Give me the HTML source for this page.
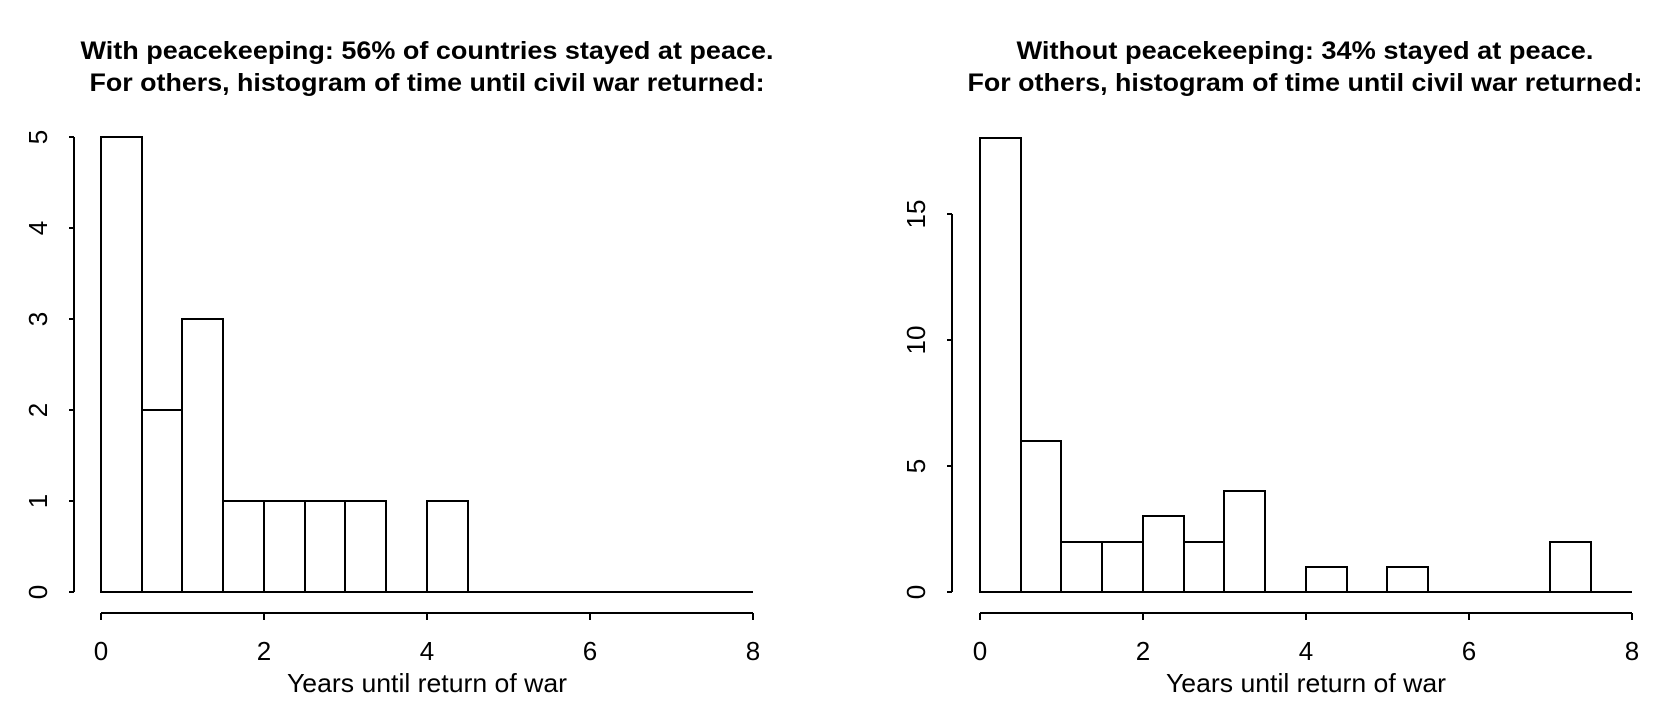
<!DOCTYPE html>
<html><head><meta charset="utf-8"><style>body{margin:0;background:#fff}svg{display:block}</style></head><body>
<svg width="1671" height="709" xmlns="http://www.w3.org/2000/svg" font-family="Liberation Sans, Arial, sans-serif" fill="none" stroke="#000" stroke-width="2">
<g fill="#000" stroke="none" text-anchor="middle">
<text x="427" y="59" font-size="25" font-weight="bold" textLength="693" lengthAdjust="spacingAndGlyphs">With peacekeeping:  56% of countries stayed at peace.</text>
<text x="427" y="91" font-size="25" font-weight="bold" textLength="675" lengthAdjust="spacingAndGlyphs">For others, histogram of time until civil war returned:</text>
<text x="1305" y="59" font-size="25" font-weight="bold" textLength="577" lengthAdjust="spacingAndGlyphs">Without peacekeeping:  34% stayed at peace.</text>
<text x="1305" y="91" font-size="25" font-weight="bold" textLength="675" lengthAdjust="spacingAndGlyphs">For others, histogram of time until civil war returned:</text>
<g font-size="26">
<text x="101" y="660">0</text><text x="264" y="660">2</text><text x="427" y="660">4</text><text x="590" y="660">6</text><text x="753" y="660">8</text>
<text x="980" y="660">0</text><text x="1143" y="660">2</text><text x="1306" y="660">4</text><text x="1469" y="660">6</text><text x="1632" y="660">8</text>
<text x="427" y="692" textLength="280" lengthAdjust="spacingAndGlyphs">Years until return of war</text>
<text x="1306" y="692" textLength="280" lengthAdjust="spacingAndGlyphs">Years until return of war</text>
<text transform="translate(47,592) rotate(-90)">0</text>
<text transform="translate(47,501) rotate(-90)">1</text>
<text transform="translate(47,410) rotate(-90)">2</text>
<text transform="translate(47,319) rotate(-90)">3</text>
<text transform="translate(47,228) rotate(-90)">4</text>
<text transform="translate(47,137) rotate(-90)">5</text>
<text transform="translate(925,592) rotate(-90)">0</text>
<text transform="translate(925,466) rotate(-90)">5</text>
<text transform="translate(925,340) rotate(-90)">10</text>
<text transform="translate(925,214) rotate(-90)">15</text>
</g></g>
<path d="M74 137V592M69 137H74M69 228H74M69 319H74M69 410H74M69 501H74M69 592H74"/>
<path d="M101 613H753M101 613V620M264 613V620M427 613V620M590 613V620M753 613V620"/>
<path d="M101 592H753"/>
<rect x="101" y="137" width="41" height="455"/>
<rect x="142" y="410" width="40" height="182"/>
<rect x="182" y="319" width="41" height="273"/>
<rect x="223" y="501" width="41" height="91"/>
<rect x="264" y="501" width="41" height="91"/>
<rect x="305" y="501" width="40" height="91"/>
<rect x="345" y="501" width="41" height="91"/>
<rect x="427" y="501" width="41" height="91"/>
<path d="M952 214V592M947 214H952M947 340H952M947 466H952M947 592H952"/>
<path d="M980 613H1632M980 613V620M1143 613V620M1306 613V620M1469 613V620M1632 613V620"/>
<path d="M980 592H1632"/>
<rect x="980" y="138" width="41" height="454"/>
<rect x="1021" y="441" width="40" height="151"/>
<rect x="1061" y="542" width="41" height="50"/>
<rect x="1102" y="542" width="41" height="50"/>
<rect x="1143" y="516" width="41" height="76"/>
<rect x="1184" y="542" width="40" height="50"/>
<rect x="1224" y="491" width="41" height="101"/>
<rect x="1306" y="567" width="41" height="25"/>
<rect x="1387" y="567" width="41" height="25"/>
<rect x="1550" y="542" width="41" height="50"/>
</svg>
</body></html>
